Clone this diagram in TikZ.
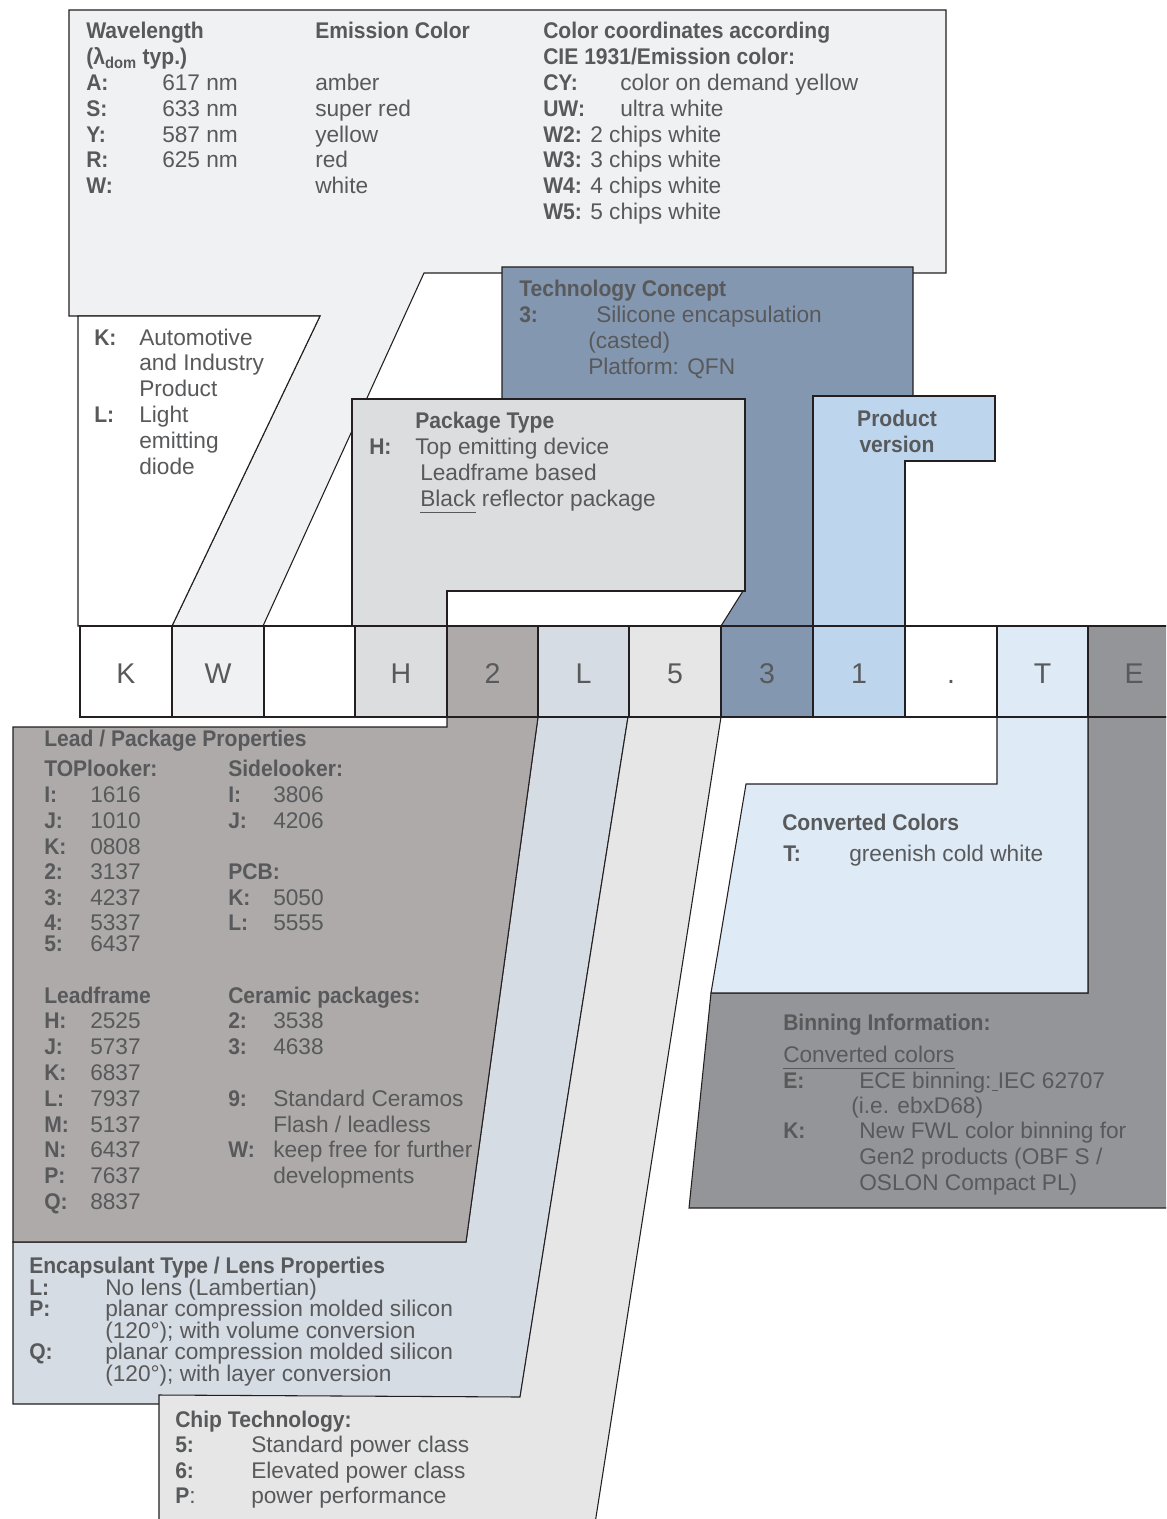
\documentclass[tikz,border=0pt]{standalone}
\usepackage{fontspec}
\setmainfont{Liberation Sans}[BoldFeatures={FakeStretch=0.93}]
\definecolor{linecol}{HTML}{231F20}
\definecolor{tcol}{HTML}{58595B}
\definecolor{topfill}{HTML}{F0F1F3}
\definecolor{pkgfill}{HTML}{DCDDDF}
\definecolor{techfill}{HTML}{8497B0}
\definecolor{pvfill}{HTML}{BDD6EE}
\definecolor{leadfill}{HTML}{AEAAAA}
\definecolor{encfill}{HTML}{D6DCE4}
\definecolor{chipfill}{HTML}{E6E6E6}
\definecolor{convfill}{HTML}{DEEAF6}
\definecolor{binfill}{HTML}{939598}
\newcommand{\bd}[1]{\textbf{#1}}
\newcommand{\txtline}[4]{\node[txt] (#1) at (#2,#3) {#4};}
\begin{document}
\begin{tikzpicture}[x=0.75pt,y=-0.75pt,
  shapebox/.style={draw=linecol, line width=0.8pt, line join=miter},
  cellbox/.style={draw=linecol, line width=1.5pt},
  txt/.style={text=tcol, font=\fontsize{17}{19.4}\selectfont, inner sep=0pt, anchor=base west},
  ctxt/.style={txt, anchor=base},
  celltxt/.style={text=tcol, font=\fontsize{21.4}{24}\selectfont, inner sep=0pt, anchor=base}]
\useasboundingbox (0,0) rectangle (1166,1519);
\clip (0,0) rectangle (1166,1519);
\fill[white] (0,0) rectangle (1166,1519);

% ---------- upper shapes
\draw[shapebox, fill=topfill] (69,10) -- (946,10) -- (946,273) -- (424,273) -- (263,626) -- (172,626) -- (320,316) -- (69,316) -- cycle;
\draw[shapebox, fill=white] (78,316) -- (320,316) -- (172,626) -- (78,626) -- cycle;
\draw[shapebox, fill=techfill] (502,267) -- (913,267) -- (913,396) -- (813,396) -- (813,626) -- (721,626) -- (743,591) -- (502,591) -- cycle;
\draw[shapebox, fill=pkgfill] (352,399) -- (745,399) -- (745,591) -- (447,591) -- (447,626) -- (352,626) -- cycle;
\draw[shapebox, fill=pvfill] (813,396) -- (995,396) -- (995,461) -- (905,461) -- (905,626) -- (813,626) -- cycle;

% ---------- lower shapes
\draw[shapebox, fill=encfill] (538,717) -- (628,717) -- (519,1404) -- (13,1404) -- (13,1242) -- (466,1242) -- cycle;
\draw[shapebox, fill=leadfill] (13,727) -- (447,727) -- (447,717) -- (538,717) -- (466,1242) -- (13,1242) -- cycle;
\draw[shapebox, fill=chipfill] (628,717) -- (721,717) -- (594,1530) -- (159,1530) -- (159,1395) -- (520,1397) -- cycle;
\draw[shapebox, fill=binfill] (1088,717) -- (1180,717) -- (1180,1208) -- (689,1208) -- (711,993) -- (1088,993) -- cycle;
\draw[shapebox, fill=convfill] (997,717) -- (1088,717) -- (1088,993) -- (711,993) -- (746,784) -- (997,784) -- cycle;

% ---------- code row
\foreach \xa/\xb/\col/\lab [count=\i] in {80/172/white/K, 172/264/topfill/W, 264/355/white/{}, 355/447/pkgfill/H, 447/538/leadfill/2, 538/629/encfill/L, 629/721/chipfill/5, 721/813/techfill/3, 813/905/pvfill/1, 905/997/white/., 997/1088/convfill/T, 1088/1180/binfill/E}
{
  \draw[cellbox, fill=\col] (\xa,626) rectangle (\xb,717);
  \node[celltxt] (cell\i) at ({(\xa+\xb)/2},683) {\lab};
}

% ---------- top box texts
\txtline{wl1}{86}{39}{\bd{Wavelength}}
\txtline{wl2}{86}{64.8}{\bd{(λ\textsubscript{dom} typ.)}}
\txtline{wlA}{86}{90.6}{\bd{A:}}
\txtline{wlS}{86}{116.4}{\bd{S:}}
\txtline{wlY}{86}{142.2}{\bd{Y:}}
\txtline{wlR}{86}{168}{\bd{R:}}
\txtline{wlW}{86}{193.8}{\bd{W:}}
\txtline{nmA}{162}{90.6}{617 nm}
\txtline{nmS}{162}{116.4}{633 nm}
\txtline{nmY}{162}{142.2}{587 nm}
\txtline{nmR}{162}{168}{625 nm}
\txtline{ec0}{315}{39}{\bd{Emission Color}}
\txtline{ec1}{315}{90.6}{amber}
\txtline{ec2}{315}{116.4}{super red}
\txtline{ec3}{315}{142.2}{yellow}
\txtline{ec4}{315}{168}{red}
\txtline{ec5}{315}{193.8}{white}
\txtline{cc0}{543}{39}{\bd{Color coordinates according}}
\txtline{cc1}{543}{64.8}{\bd{CIE 1931/Emission color:}}
\txtline{ccCY}{543}{90.6}{\bd{CY:}}
\txtline{ccCYt}{620}{90.6}{color on demand yellow}
\txtline{ccUW}{543}{116.4}{\bd{UW:}}
\txtline{ccUWt}{620}{116.4}{ultra white}
\txtline{ccW2}{543}{142.2}{\bd{W2:} 2 chips white}
\txtline{ccW3}{543}{168}{\bd{W3:} 3 chips white}
\txtline{ccW4}{543}{193.8}{\bd{W4:} 4 chips white}
\txtline{ccW5}{543}{219.6}{\bd{W5:} 5 chips white}

% ---------- K box texts
\txtline{kK}{94}{345}{\bd{K:}}
\txtline{kK1}{139}{345}{Automotive}
\txtline{kK2}{139}{370.8}{and Industry}
\txtline{kK3}{139}{396.6}{Product}
\txtline{kL}{94}{422.4}{\bd{L:}}
\txtline{kL1}{139}{422.4}{Light}
\txtline{kL2}{139}{448.2}{emitting}
\txtline{kL3}{139}{474}{diode}

% ---------- technology concept
\txtline{tc0}{519}{297}{\bd{Technology Concept}}
\txtline{tc3}{519}{323}{\bd{3:}}
\txtline{tc1}{596}{323}{Silicone encapsulation}
\txtline{tc2}{588}{348.8}{(casted)}
\txtline{tc4}{588}{374.6}{Platform: QFN}

% ---------- package type
\txtline{pt0}{415}{428}{\bd{Package Type}}
\txtline{ptH}{369}{454}{\bd{H:}}
\txtline{pt1}{415}{454}{Top emitting device}
\txtline{pt2}{420}{480}{Leadframe based}
\txtline{pt3}{420}{506}{\underline{Black\vphantom{g}} reflector package}

% ---------- product version
\node[ctxt] (pv1) at (897,426) {\bd{Product}};
\node[ctxt] (pv2) at (897,452) {\bd{version}};

% ---------- lead / package properties
\txtline{lp0}{44}{746}{\bd{Lead / Package Properties}}
\txtline{lpT}{44}{776}{\bd{TOPlooker:}}
\txtline{lpS}{228}{776}{\bd{Sidelooker:}}
\txtline{lpI}{44}{802}{\bd{I:}}
\txtline{lpIv}{90}{802}{1616}
\txtline{lpJ}{44}{828}{\bd{J:}}
\txtline{lpJv}{90}{828}{1010}
\txtline{lpK}{44}{854}{\bd{K:}}
\txtline{lpKv}{90}{854}{0808}
\txtline{lp2}{44}{879.5}{\bd{2:}}
\txtline{lp2v}{90}{879.5}{3137}
\txtline{lp3}{44}{905}{\bd{3:}}
\txtline{lp3v}{90}{905}{4237}
\txtline{lp4}{44}{930.5}{\bd{4:}}
\txtline{lp4v}{90}{930.5}{5337}
\txtline{lp5}{44}{951}{\bd{5:}}
\txtline{lp5v}{90}{951}{6437}
\txtline{slI}{228}{802}{\bd{I:}}
\txtline{slIv}{273}{802}{3806}
\txtline{slJ}{228}{828}{\bd{J:}}
\txtline{slJv}{273}{828}{4206}
\txtline{pcb}{228}{879.5}{\bd{PCB:}}
\txtline{pcbK}{228}{905}{\bd{K:}}
\txtline{pcbKv}{273}{905}{5050}
\txtline{pcbL}{228}{930.5}{\bd{L:}}
\txtline{pcbLv}{273}{930.5}{5555}
\txtline{lf0}{44}{1003}{\bd{Leadframe}}
\txtline{lfH}{44}{1028.8}{\bd{H:}}
\txtline{lfHv}{90}{1028.8}{2525}
\txtline{lfJ}{44}{1054.6}{\bd{J:}}
\txtline{lfJv}{90}{1054.6}{5737}
\txtline{lfK}{44}{1080.4}{\bd{K:}}
\txtline{lfKv}{90}{1080.4}{6837}
\txtline{lfL}{44}{1106.2}{\bd{L:}}
\txtline{lfLv}{90}{1106.2}{7937}
\txtline{lfM}{44}{1132}{\bd{M:}}
\txtline{lfMv}{90}{1132}{5137}
\txtline{lfN}{44}{1157.8}{\bd{N:}}
\txtline{lfNv}{90}{1157.8}{6437}
\txtline{lfP}{44}{1183.6}{\bd{P:}}
\txtline{lfPv}{90}{1183.6}{7637}
\txtline{lfQ}{44}{1209.4}{\bd{Q:}}
\txtline{lfQv}{90}{1209.4}{8837}
\txtline{cp0}{228}{1003}{\bd{Ceramic packages:}}
\txtline{cp2}{228}{1028.8}{\bd{2:}}
\txtline{cp2v}{273}{1028.8}{3538}
\txtline{cp3}{228}{1054.6}{\bd{3:}}
\txtline{cp3v}{273}{1054.6}{4638}
\txtline{cp9}{228}{1106.2}{\bd{9:}}
\txtline{cp9v}{273}{1106.2}{Standard Ceramos}
\txtline{cp9w}{273}{1132}{Flash / leadless}
\txtline{cpW}{228}{1157.8}{\bd{W:}}
\txtline{cpWv}{273}{1157.8}{keep free for further}
\txtline{cpWw}{273}{1183.6}{developments}

% ---------- encapsulant
\txtline{en0}{29}{1273}{\bd{Encapsulant Type / Lens Properties}}
\txtline{enL}{29}{1295}{\bd{L:}}
\txtline{enLv}{105}{1295}{No lens (Lambertian)}
\txtline{enP}{29}{1316.5}{\bd{P:}}
\txtline{enPv}{105}{1316.5}{planar compression molded silicon}
\txtline{enPw}{105}{1338}{(120°); with volume conversion}
\txtline{enQ}{29}{1359.5}{\bd{Q:}}
\txtline{enQv}{105}{1359.5}{planar compression molded silicon}
\txtline{enQw}{105}{1381}{(120°); with layer conversion}

% ---------- chip technology
\txtline{ch0}{175}{1427}{\bd{Chip Technology:}}
\txtline{ch5}{175}{1452.5}{\bd{5:}}
\txtline{ch5v}{251}{1452.5}{Standard power class}
\txtline{ch6}{175}{1478}{\bd{6:}}
\txtline{ch6v}{251}{1478}{Elevated power class}
\txtline{chP}{175}{1503.5}{\bd{P}:}
\txtline{chPv}{251}{1503.5}{power performance}

% ---------- converted colors
\txtline{cv0}{782}{830}{\bd{Converted Colors}}
\txtline{cvT}{783}{861}{\bd{T:}}
\txtline{cvTv}{849}{861}{greenish cold white}

% ---------- binning
\txtline{bi0}{783}{1030}{\bd{Binning Information:}}
\txtline{bi1}{783}{1062}{\underline{Converted colors\vphantom{g}}}
\txtline{biE}{783}{1088}{\bd{E:}}
\txtline{biEv}{859}{1088}{ECE binning:\underline{\ }IEC 62707}
\txtline{biEw}{851}{1113}{(i.e. ebxD68)}
\txtline{biK}{783}{1138.5}{\bd{K:}}
\txtline{biKv}{859}{1138.5}{New FWL color binning for}
\txtline{biKw}{859}{1164}{Gen2 products (OBF S /}
\txtline{biKx}{859}{1190}{OSLON Compact PL)}
\end{tikzpicture}
\end{document}
